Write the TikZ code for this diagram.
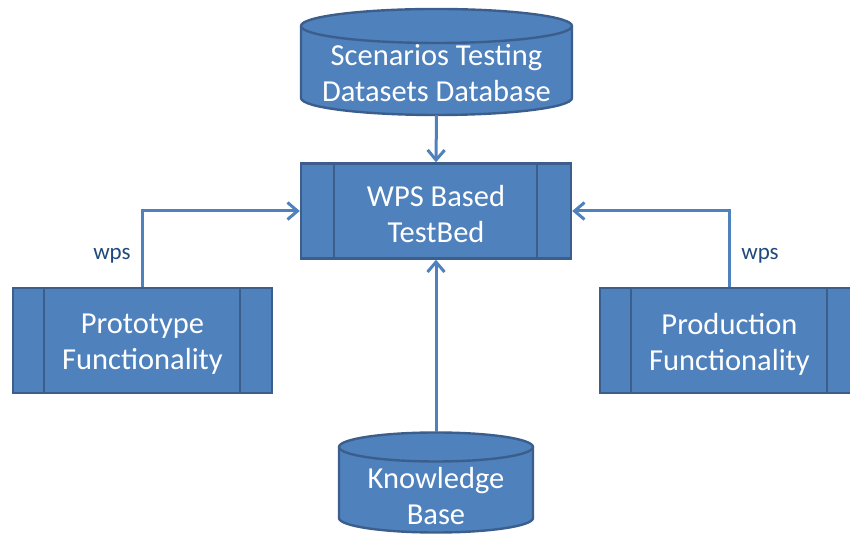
\documentclass[tikz,border=0pt]{standalone}
\usepackage{fontspec}
\setmainfont{Carlito}
\usetikzlibrary{arrows.meta,calc}
\definecolor{boxfill}{HTML}{4F81BD}
\definecolor{boxline}{HTML}{3B5E8C}
\definecolor{labeltext}{HTML}{1F497D}

\tikzset{
  proc/.style={draw=boxline, fill=boxfill, line width=2.4pt, inner sep=0pt,
    minimum width=#1},
  bodytext/.style={text=white, align=center, font=\fontsize{30.5}{36}\selectfont},
  drum/.style={draw=boxline, fill=boxfill, line width=2.4pt},
  link/.style={draw=boxfill, line width=3pt,
    -{Straight Barb[length=10pt,width=17pt,line width=3pt]}},
  wpslabel/.style={text=labeltext, font=\fontsize{23}{26}\selectfont}
}

\begin{document}
\begin{tikzpicture}[x=1pt,y=1pt]
\useasboundingbox (0,0) rectangle (850,534);
\clip (0,0) rectangle (850,534);

% top cylinder: scenario datasets store
\filldraw[drum] (301,508) -- (301,436) arc (180:360:135.5 and 17)
  -- (572,508) arc (0:180:135.5 and 17) -- cycle;
\draw[drum, fill=none] (301,508) arc (180:360:135.5 and 17);
\node[inner sep=0pt, minimum width=271pt, minimum height=106pt] (store) at (436.5,472) {};
\node[bodytext] at (436.5,461) {Scenarios Testing\\Datasets Database};

% bottom cylinder: knowledge base
\filldraw[drum] (339,87) -- (339,16) arc (180:360:97 and 14.5)
  -- (533,87) arc (0:180:97 and 14.5) -- cycle;
\draw[drum, fill=none] (339,87) arc (180:360:97 and 14.5);
\node[inner sep=0pt, minimum width=194pt, minimum height=100pt] (kb) at (436,51.5) {};
\node[bodytext] at (436,38) {Knowledge\\Base};

% predefined-process boxes
\node[proc=270pt, minimum height=95pt] (tb) at (436,323) {};
\draw[boxline, line width=2.4pt] ($(tb.north west)+(34,0)$) -- ($(tb.south west)+(34,0)$)
  ($(tb.north east)+(-35,0)$) -- ($(tb.south east)+(-35,0)$);
\node[bodytext] at ($(tb.center)+(0,-3)$) {WPS Based\\TestBed};

\node[proc=259pt, minimum height=105pt] (proto) at (142.5,193.5) {};
\draw[boxline, line width=2.4pt] ($(proto.north west)+(32,0)$) -- ($(proto.south west)+(32,0)$)
  ($(proto.north east)+(-33,0)$) -- ($(proto.south east)+(-33,0)$);
\node[bodytext] at ($(proto.center)+(0,-4)$) {Prototype\\Functionality};

\node[proc=259pt, minimum height=105pt] (prod) at (729.5,193.5) {};
\draw[boxline, line width=2.4pt] ($(prod.north west)+(32,0)$) -- ($(prod.south west)+(32,0)$)
  ($(prod.north east)+(-33,0)$) -- ($(prod.south east)+(-33,0)$);
\node[bodytext] at ($(prod.center)+(0,-4)$) {Production\\Functionality};

% connectors
\draw[link] (store.south) -- (tb.north);
\draw[link] (kb.north) -- (tb.south);
\draw[link] (proto.north) |- (tb.west);
\draw[link] (prod.north) |- (tb.east);

\node[wpslabel] at (112,278) {wps};
\node[wpslabel] at (760,278) {wps};
\end{tikzpicture}
\end{document}
